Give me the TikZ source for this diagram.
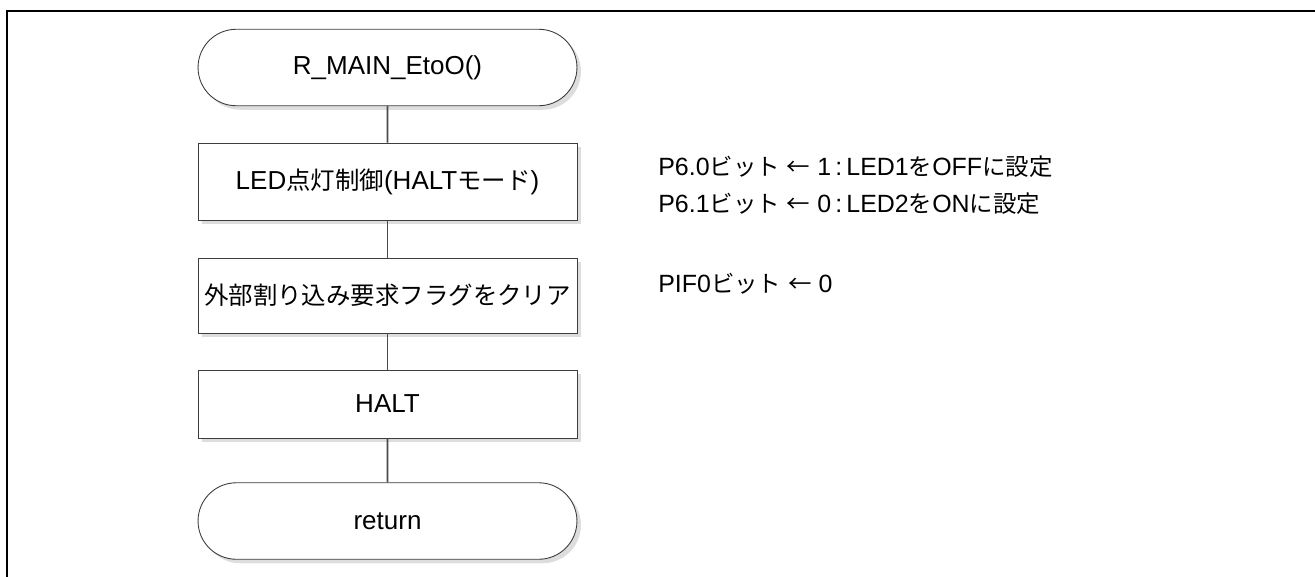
\documentclass[tikz,border=0pt]{standalone}
\usepackage{fontspec}
\setmainfont{Liberation Sans}
\newfontfamily\jpfont[Scale=0.94]{Noto Sans CJK JP}
\newcommand{\jp}[1]{{\jpfont #1}}
\usetikzlibrary{shapes.misc,shadows}
\definecolor{ink}{HTML}{3C3C3C}
\definecolor{wire}{HTML}{4A4A4A}
\definecolor{shade}{HTML}{DDDDDD}
\tikzset{
  fshadow/.style={drop shadow={shadow xshift=0.08cm,shadow yshift=-0.08cm,fill=shade,opacity=1}},
  proc/.style={rectangle,draw=ink,fill=white,line width=0.5pt,minimum width=7.58cm,
               font=\fontsize{14.8pt}{18pt}\selectfont,inner sep=0pt,fshadow},
  term/.style={proc,rounded rectangle,minimum height=1.53cm},
  link/.style={line width=1.1pt,color=wire},
  note/.style={anchor=base west,inner sep=0pt,font=\fontsize{14.2pt}{18pt}\selectfont},
  frame/.style={line width=1.1pt,color=black},
}

\begin{document}
\begin{tikzpicture}[x=0.02cm,y=-0.02cm]
    \useasboundingbox (0,0) rectangle (1315,576);
    \draw[frame] (7,580) -- (7,11) -- (1320,11);

    \node[term] (start) at (387.5,67.5) {R\_MAIN\_EtoO()};
    \foreach \i/\y/\h/\txt in {
      1/181.5/1.54/{LED\jp{点灯制御}(HALT\jp{モード})},
      2/295.5/1.50/{\jp{外部割り込み要求フラグをクリア}},
      3/404/1.36/{HALT}%
    }{
      \node[proc,minimum height=\h cm] (p\i) at (387.5,\y) {\txt};
    }
    \node[term] (stop) at (387.5,521) {return};

    \foreach \a/\b in {start/p1,p1/p2,p2/p3,p3/stop}
      \draw[link] (\a) -- (\b);

    \node[note] (n1) at (658,175) {P6.0\jp{ビット} \jp{←} 1\,:\,LED1\jp{を}OFF\jp{に設定}};
    \node[note] (n2) at (658,212) {P6.1\jp{ビット} \jp{←} 0\,:\,LED2\jp{を}ON\jp{に設定}};
    \node[note] (n3) at (658,292) {PIF0\jp{ビット} \jp{←} 0};
\end{tikzpicture}
\end{document}
